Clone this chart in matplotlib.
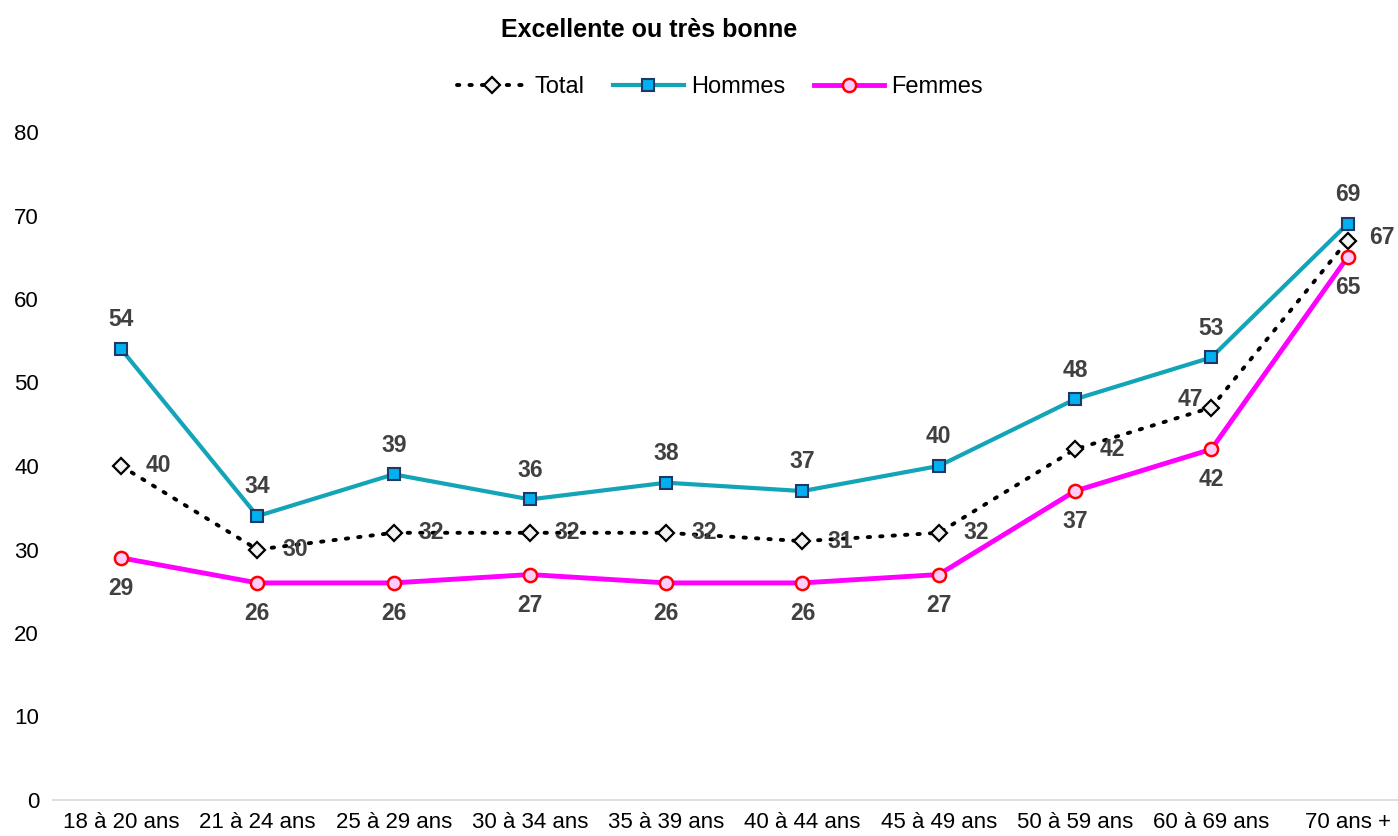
import numpy as np
import matplotlib.pyplot as plt

plt.rcParams['font.family'] = ['Liberation Sans', 'DejaVu Sans']

# données
categories = ["18 à 20 ans", "21 à 24 ans", "25 à 29 ans", "30 à 34 ans", "35 à 39 ans",
              "40 à 44 ans", "45 à 49 ans", "50 à 59 ans", "60 à 69 ans", "70 ans +"]
total = [40, 30, 32, 32, 32, 31, 32, 42, 47, 67]
hommes = [54, 34, 39, 36, 38, 37, 40, 48, 53, 69]
femmes = [29, 26, 26, 27, 26, 26, 27, 37, 42, 65]

x = np.arange(len(categories))

fig = plt.figure(figsize=(13.98, 8.36), dpi=100)
ax = fig.add_axes([53/1398, 36/836, 1 - 53/1398, (800-132)/836])

ax.plot(x, total, color='black', linestyle=(0, (0.6, 2.6)), linewidth=2.8,
        dash_capstyle='round', marker='D', markersize=8, markerfacecolor='#f2f2f2',
        markeredgecolor='black', markeredgewidth=1.6, label='Total', zorder=3)
ax.plot(x, hommes, color='#13a4b8', linewidth=3, marker='s', markersize=9,
        markerfacecolor='#00b0f0', markeredgecolor='#1f3864', markeredgewidth=1.5,
        label='Hommes', zorder=4)
ax.plot(x, femmes, color='#ff00ff', linewidth=3.5, marker='o', markersize=9.5,
        markerfacecolor='#ffccff', markeredgecolor='#ff0000', markeredgewidth=1.8,
        label='Femmes', zorder=4)

# étiquettes de données
lab = dict(fontsize=16.5, fontweight='bold', color='#404040', ha='center', va='center')
for i in range(len(x)):
    ax.annotate(str(hommes[i]), (x[i], hommes[i]), xytext=(0, 21), textcoords='offset points', **lab)
    ax.annotate(str(femmes[i]), (x[i], femmes[i]), xytext=(0, -22), textcoords='offset points', **lab)
    if i == 8:
        off = (-15, 6)
    elif i == 9:
        off = (25, 2)
    else:
        off = (27, 0)
    ax.annotate(str(total[i]), (x[i], total[i]), xytext=off, textcoords='offset points', **lab)

ax.set_ylim(0, 80)
ax.set_xlim(-0.5, 9.37)
ax.set_yticks(range(0, 81, 10))
ax.set_xticks(x)
ax.set_xticklabels(categories)
ax.tick_params(axis='both', length=0, labelsize=16, colors='black')
ax.tick_params(axis='y', pad=10)
ax.tick_params(axis='x', pad=9)
for s in ['top', 'right', 'left']:
    ax.spines[s].set_visible(False)
ax.spines['bottom'].set_color('#d9d9d9')
ax.spines['bottom'].set_linewidth(1.2)

fig.text(0.464, 0.964, "Excellente ou très bonne", ha='center', va='center',
         fontsize=18, fontweight='bold')
fig.legend(loc='center', bbox_to_anchor=(0.515, 0.896), ncol=3, frameon=False,
           fontsize=17, handlelength=3.0, columnspacing=1.2, handletextpad=0.3)

fig.savefig('out.png', dpi=100)
